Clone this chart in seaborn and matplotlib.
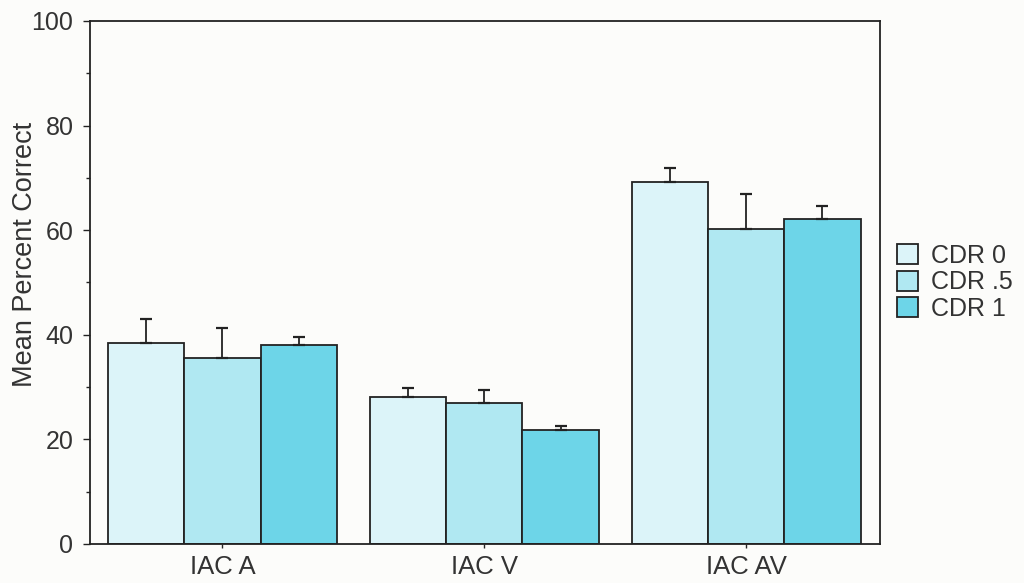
import matplotlib
matplotlib.use("Agg")
import matplotlib.pyplot as plt
import seaborn as sns
import pandas as pd
import numpy as np
from matplotlib.ticker import MultipleLocator

categories = ["IAC A", "IAC V", "IAC AV"]
groups = ["CDR 0", "CDR .5", "CDR 1"]
means_cdr0 = [38.5, 28.1, 69.2]
means_cdr05 = [35.5, 26.9, 60.2]
means_cdr1 = [38.1, 21.8, 62.2]
err_cdr0 = [4.6, 1.8, 2.7]
err_cdr05 = [5.7, 2.5, 6.7]
err_cdr1 = [1.4, 0.7, 2.4]
colors = ["#dcf4f9", "#b0e8f2", "#6dd5e8"]

means = [means_cdr0, means_cdr05, means_cdr1]
errs = [err_cdr0, err_cdr05, err_cdr1]
rows = []
for g, m in zip(groups, means):
    for c, v in zip(categories, m):
        rows.append({"cond": c, "group": g, "mean": v})
df = pd.DataFrame(rows)

sns.set_style("ticks")
plt.rcParams['font.family'] = ['Liberation Sans', 'DejaVu Sans']

TXT = "#333333"

fig = plt.figure(figsize=(10.24, 5.83), dpi=100)
fig.patch.set_facecolor("#fcfcfa")
ax = fig.add_axes([0.088, 0.067, 0.771, 0.897])
ax.set_facecolor("#fcfcfa")

sns.barplot(data=df, x="cond", y="mean", hue="group", hue_order=groups,
            order=categories, palette=colors, edgecolor="#222222", linewidth=1.3,
            width=0.875, gap=0, errorbar=None, ax=ax, saturation=1)

for cont, e in zip(ax.containers, errs):
    for patch, ev in zip(cont.patches, e):
        xc = patch.get_x() + patch.get_width() / 2
        h = patch.get_height()
        ax.errorbar([xc], [h], yerr=[[0], [ev]], fmt="none", ecolor="#222222",
                    elinewidth=1.3, capsize=4, capthick=1.6)

ax.set_ylim(0, 100)
ax.set_xlim(-0.505, 2.51)
ax.yaxis.set_major_locator(MultipleLocator(20))
ax.yaxis.set_minor_locator(MultipleLocator(10))
ax.tick_params(axis="y", which="major", length=5, width=1, pad=7, labelsize=18,
               colors="#222222", labelcolor=TXT)
ax.tick_params(axis="y", which="minor", length=3, width=1, colors="#222222")
ax.tick_params(axis="x", length=3, width=1, pad=5, labelsize=18.5, labelcolor=TXT)
for s in ax.spines.values():
    s.set_visible(True)
    s.set_linewidth(1.3)
    s.set_color("#222222")
ax.set_xlabel("")
ax.set_ylabel("Mean Percent Correct", fontsize=19.5, color=TXT)
ax.yaxis.set_label_coords(-0.066, 0.553)

leg = ax.legend(loc="center left", bbox_to_anchor=(1.022, 0.5), frameon=False,
                fontsize=18, handlelength=0.86, handleheight=0.86, handletextpad=0.5,
                labelspacing=0.1, borderaxespad=0, borderpad=0)
for t in leg.get_texts():
    t.set_color(TXT)

fig.savefig("out.png", dpi=100, facecolor=fig.get_facecolor())
